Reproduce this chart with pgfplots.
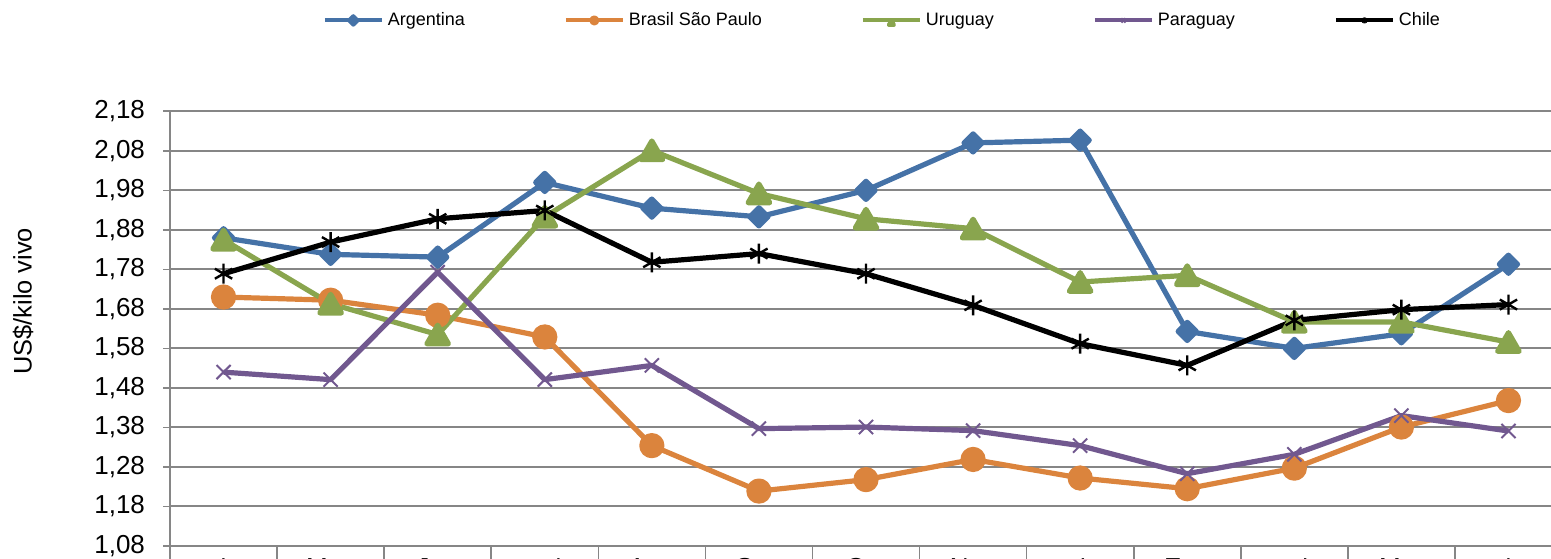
\documentclass[border=0pt]{standalone}
\usepackage{fontspec}
\setmainfont{Liberation Sans}
\usepackage{pgfplots}
\pgfplotsset{compat=1.18}

\definecolor{argblue}{HTML}{4572A7}
\definecolor{braorange}{HTML}{DB843D}
\definecolor{urugreen}{HTML}{89A54E}
\definecolor{parpurple}{HTML}{71588F}
\definecolor{gridgray}{HTML}{868686}

\begin{document}
\begin{tikzpicture}
% the reference is cut at the bottom and at the right
\useasboundingbox (-85pt,-6pt) rectangle (690.5pt,273pt);
\clip (-85pt,-6pt) rectangle (690.5pt,273pt);
\begin{axis}[
    at={(0,0)}, anchor=south west,
    scale only axis,
    width=696pt, height=217.35pt,
    xmin=-0.5, xmax=12.5,
    ymin=1.08, ymax=2.18,
    axis x line*=bottom, axis y line*=left,
    axis line style={-, draw=gridgray, line width=0.8pt},
    ytick={1.08,1.18,1.28,1.38,1.48,1.58,1.68,1.78,1.88,1.98,2.08,2.18},
    ymajorgrids,
    grid style={gridgray, line width=1pt},
    xtick={0,1,2,3,4,5,6,7,8,9,10,11,12},
    xticklabels={Abr,May,Jun,Jul,Ago,Sep,Oct,Nov,Dic,Ene,Feb,Mar,Abr},
    minor xtick={-0.5,0.5,1.5,2.5,3.5,4.5,5.5,6.5,7.5,8.5,9.5,10.5,11.5,12.5},
    tick align=outside,
    major tick length=3.5pt,
    minor tick length=20pt,
    major x tick style={draw=none},
    tick style={gridgray, line width=0.8pt},
    tick label style={font=\fontsize{13}{15}\selectfont},
    yticklabel style={xshift=-5.5pt, /pgf/number format/.cd, fixed, fixed zerofill, precision=2, use comma, assume math mode=true},
    xticklabel style={inner sep=0pt, yshift=-2.5pt},
    ylabel={US\$/kilo vivo},
    ylabel style={at={(axis description cs:-0.1056,0.563)}, anchor=center, font=\fontsize{12.7}{15}\selectfont},
    legend style={at={(axis description cs:0.5125,1.209)}, anchor=center, draw=none,
        font=\fontsize{9}{10}\selectfont, legend columns=-1,
        nodes={inner sep=2pt},
        /tikz/every even column/.append style={column sep=47.5pt}},
    legend image code/.code={\draw[mark repeat=2,mark phase=2,#1,line width=2pt,mark size=1.5pt]
        plot coordinates {(0pt,0pt) (14.25pt,0pt) (28.5pt,0pt)};},
    every axis plot/.append style={line join=round},
]
\addplot[argblue, line width=2.6pt, mark=square*, mark size=3.2pt, mark options={rotate=45, solid}] coordinates {
    (0,1.860) (1,1.818) (2,1.811) (3,2.000) (4,1.935) (5,1.913) (6,1.980)
    (7,2.100) (8,2.107) (9,1.623) (10,1.580) (11,1.617) (12,1.793)
};
\addlegendentry{Argentina}
\addplot[braorange, line width=2.6pt, mark=*, mark size=5pt, mark options={solid}] coordinates {
    (0,1.710) (1,1.702) (2,1.664) (3,1.609) (4,1.334) (5,1.219) (6,1.248)
    (7,1.299) (8,1.252) (9,1.225) (10,1.277) (11,1.381) (12,1.448)
};
\addlegendentry{Brasil São Paulo}
\addplot[urugreen, line width=2.6pt, mark=triangle*, mark size=6.2pt, mark options={solid, yshift=-1.5pt}] coordinates {
    (0,1.855) (1,1.693) (2,1.615) (3,1.913) (4,2.081) (5,1.972) (6,1.908)
    (7,1.883) (8,1.748) (9,1.765) (10,1.647) (11,1.647) (12,1.596)
};
\addlegendentry{Uruguay}
\addplot[parpurple, line width=2.6pt, mark=x, mark size=5pt, mark options={solid, line width=1pt}] coordinates {
    (0,1.520) (1,1.501) (2,1.773) (3,1.501) (4,1.537) (5,1.377) (6,1.381)
    (7,1.372) (8,1.334) (9,1.263) (10,1.312) (11,1.410) (12,1.371)
};
\addlegendentry{Paraguay}
\addplot[black, line width=2.6pt, mark=asterisk, mark size=5pt, mark options={solid, line width=1.2pt}] coordinates {
    (0,1.769) (1,1.849) (2,1.908) (3,1.929) (4,1.798) (5,1.820) (6,1.769)
    (7,1.689) (8,1.592) (9,1.537) (10,1.651) (11,1.678) (12,1.691)
};
\addlegendentry{Chile}
\end{axis}
\end{tikzpicture}
\end{document}
